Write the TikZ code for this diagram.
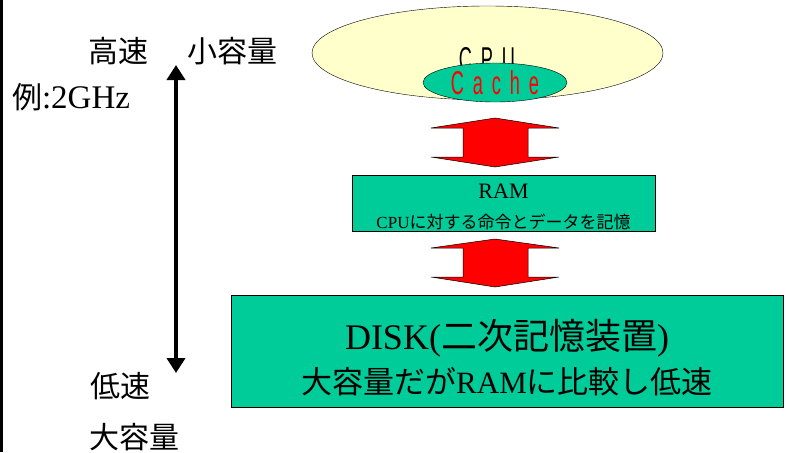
\documentclass[tikz,border=0pt]{standalone}
\usepackage{fontspec}
\setmainfont{Liberation Serif}
\newfontfamily\jp{Noto Sans CJK JP}
\newfontfamily\chip[FakeStretch=0.55,LetterSpace=27]{Liberation Sans}
\usetikzlibrary{shapes.geometric,arrows.meta}
\definecolor{memgreen}{RGB}{0,204,153}
\definecolor{cpuyellow}{RGB}{255,255,204}

\begin{document}
\begin{tikzpicture}[x=1pt, y=-1pt,
    box/.style={draw=black, fill=memgreen, line width=0.8pt, inner sep=0pt, align=center},
    bus/.style={draw=black, fill=red, line width=0.5pt},
    side/.style={font=\jp\fontsize{30}{30}\selectfont, inner sep=0pt},
    >={Triangle[width=18pt,length=15pt]}]
    \useasboundingbox (0,0) rectangle (786,452);
    \draw[line width=3pt] (1.5,0) -- (1.5,452);
    \node[ellipse, draw, fill=cpuyellow, minimum width=351pt, minimum height=94pt, inner sep=0pt] (cpu) at (487.5,53) {};
    \node[font=\chip\fontsize{33}{33}\selectfont, inner sep=0pt] (cputext) at (487,59) {CPU};
    \node[ellipse, draw, fill=memgreen, minimum width=144pt, minimum height=39pt, inner sep=0pt,
        text=red, font=\chip\fontsize{33}{33}\selectfont] (cache) at (495,82.5) {\raisebox{-2.5pt}{Cache}};
    \node[box, minimum width=303pt, minimum height=56pt, font=\fontsize{22}{30}\selectfont] (ram) at (503.5,203)
        {\rule{0pt}{23pt}RAM\\{\fontsize{17}{17}\selectfont CPU{\jp に対する命令とデータを記憶}}};
    \node[box, minimum width=552pt, minimum height=112pt, font=\fontsize{36}{44}\selectfont] (disk) at (507,351)
        {\rule{0pt}{44pt}DISK({\jp 二次記憶装置})\\{\fontsize{31}{31}\selectfont{\jp 大容量だが}RAM{\jp に比較し低速}}};
    \filldraw[bus] (495,118) -- ++(64,10) -- ++(-31,0) -- ++(0,29) -- ++(31,0) -- ++(-64,10)
        -- ++(-64,-10) -- ++(32,0) -- ++(0,-29) -- ++(-32,0) -- cycle;
    \filldraw[bus] (495,239) -- ++(64,9) -- ++(-31,0) -- ++(0,29) -- ++(31,0) -- ++(-64,10)
        -- ++(-64,-10) -- ++(32,0) -- ++(0,-29) -- ++(-32,0) -- cycle;
    \coordinate (top) at (176,65);
    \coordinate (bottom) at (176,373);
    \draw[<->, line width=4pt] (top) -- (bottom);
    \node[side] (fast) at (118,51) {高速};
    \node[side] (small) at (232.5,51) {小容量};
    \node[side] (ghz) at (71,97) {例{\rmfamily\fontsize{33}{33}\selectfont :2GHz}};
    \node[side] (slow) at (120,386) {低速};
    \node[side] (large) at (134,437) {大容量};
\end{tikzpicture}
\end{document}
